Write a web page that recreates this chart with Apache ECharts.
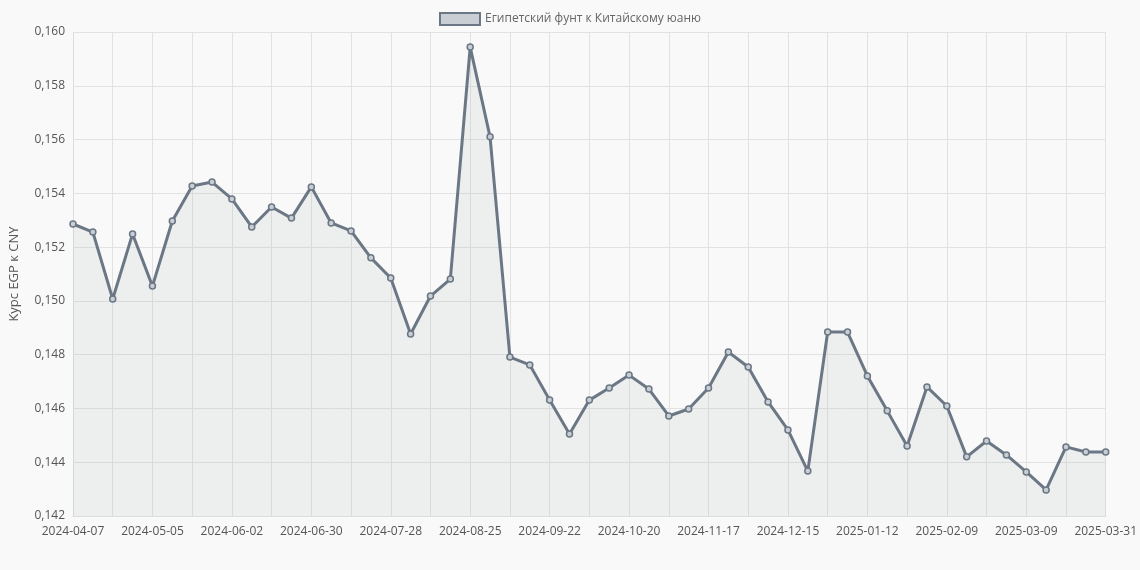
<!DOCTYPE html>
<html>
<head>
<meta charset="utf-8">
<script src="https://cdn.jsdelivr.net/npm/echarts@6/dist/echarts.min.js"></script>
<style>
  html, body { margin: 0; padding: 0; background: #f9f9f9; }
  #chart { width: 1140px; height: 570px; }
</style>
</head>
<body>
<div id="chart"></div>
<script>
const seriesName = 'Египетский фунт к Китайскому юаню';
const yAxisName = 'Курс EGP к CNY';

const dates = [
  '2024-04-07','2024-04-14','2024-04-21','2024-04-28','2024-05-05','2024-05-12','2024-05-19','2024-05-26',
  '2024-06-02','2024-06-09','2024-06-16','2024-06-23','2024-06-30','2024-07-07','2024-07-14','2024-07-21',
  '2024-07-28','2024-08-04','2024-08-11','2024-08-18','2024-08-25','2024-09-01','2024-09-08','2024-09-15',
  '2024-09-22','2024-09-29','2024-10-06','2024-10-13','2024-10-20','2024-10-27','2024-11-03','2024-11-10',
  '2024-11-17','2024-11-24','2024-12-01','2024-12-08','2024-12-15','2024-12-22','2024-12-29','2025-01-05',
  '2025-01-12','2025-01-19','2025-01-26','2025-02-02','2025-02-09','2025-02-16','2025-02-23','2025-03-02',
  '2025-03-09','2025-03-16','2025-03-23','2025-03-30','2025-03-31'
];

const rates = [
  0.15286, 0.15256, 0.15007, 0.15249, 0.15055, 0.15297, 0.15427, 0.15442,
  0.15379, 0.15275, 0.15349, 0.15308, 0.15424, 0.15290, 0.15260, 0.15160,
  0.15085, 0.14877, 0.15018, 0.15081, 0.15944, 0.15610, 0.14791, 0.14762,
  0.14631, 0.14505, 0.14631, 0.14676, 0.14724, 0.14672, 0.14572, 0.14598,
  0.14676, 0.14810, 0.14754, 0.14624, 0.14520, 0.14367, 0.14884, 0.14884,
  0.14721, 0.14591, 0.14460, 0.14680, 0.14609, 0.14420, 0.14479, 0.14427,
  0.14364, 0.14297, 0.14457, 0.14438, 0.14438
];

const lineColor = '#6b7785';
const chart = echarts.init(document.getElementById('chart'));

chart.setOption({
  backgroundColor: '#f9f9f9',
  textStyle: { fontFamily: 'Open Sans, Arial, sans-serif' },
  legend: {
    top: 7,
    icon: 'rect',
    itemWidth: 40,
    itemHeight: 12,
    itemGap: 6,
    textStyle: { color: '#666', fontSize: 12 },
    data: [seriesName]
  },
  grid: { left: 68, right: 34, top: 32, bottom: 54 },
  xAxis: {
    type: 'category',
    boundaryGap: false,
    data: dates,
    axisLine: { lineStyle: { color: '#ddd' } },
    axisTick: { show: false },
    axisLabel: { interval: 3, color: '#555', fontSize: 12, margin: 10 },
    splitLine: { show: true, interval: 1, lineStyle: { color: '#e2e2e2' } }
  },
  yAxis: {
    type: 'value',
    min: 0.142,
    max: 0.160,
    interval: 0.002,
    name: yAxisName,
    nameLocation: 'middle',
    nameGap: 52,
    nameTextStyle: { color: '#555', fontSize: 13 },
    axisLine: { show: true, lineStyle: { color: '#ddd' } },
    axisLabel: {
      color: '#555',
      fontSize: 12,
      formatter: v => v.toFixed(3).replace('.', ',')
    },
    splitLine: { lineStyle: { color: '#e2e2e2' } }
  },
  series: [{
    name: seriesName,
    type: 'line',
    data: rates,
    symbol: 'circle',
    symbolSize: 6,
    lineStyle: { color: lineColor, width: 3 },
    itemStyle: { color: '#c9ced4', borderColor: lineColor, borderWidth: 1.5 },
    areaStyle: { color: 'rgba(160,170,170,0.18)' }
  }]
});
</script>
</body>
</html>
